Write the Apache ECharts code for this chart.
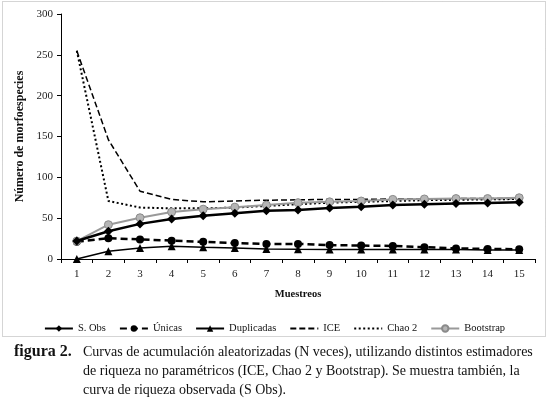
<!DOCTYPE html>
<html>
<head>
<meta charset="utf-8">
<script src="https://cdn.jsdelivr.net/npm/echarts@6/dist/echarts.min.js"></script>
<style>
html, body { margin: 0; padding: 0; background: #fff; }
#chart { width: 549px; height: 398px; }
</style>
</head>
<body>
<div id="chart"></div>
<script>
const muestreos = ['1', '2', '3', '4', '5', '6', '7', '8', '9', '10', '11', '12', '13', '14', '15']
const sObs = [22, 34, 43, 49, 53, 56, 59, 60, 62.5, 64, 66, 67, 68, 68.5, 69.5]
const unicas = [21, 25.5, 24, 22.5, 21, 19.5, 18.5, 18.5, 17, 16.5, 16, 14.5, 13, 12.3, 12]
const duplicadas = [0, 9.5, 13.5, 15.5, 14.3, 13.5, 12.3, 11.8, 11.5, 11.5, 11.5, 11.5, 11.5, 11, 11]
const ice = [255, 146, 83, 73, 70, 71, 72, 72.5, 73, 73, 73.5, 73.5, 74, 74, 74]
const chao2 = [255, 71, 63, 62, 62, 63, 65, 67, 69, 70, 71, 72, 72.5, 73, 73.5]
const bootstrap = [22, 42, 50.5, 57.5, 61, 63.5, 66, 69, 70, 71, 73, 73.5, 74, 74, 75]

const serif = '"Liberation Serif", "DejaVu Serif", serif'

const chart = echarts.init(document.getElementById('chart'))

chart.setOption({
  animation: false,
  textStyle: { fontFamily: serif },
  grid: { left: 61, right: 14, top: 14, bottom: 139 },
  legend: {
    top: 318,
    left: 'center',
    itemWidth: 28,
    itemHeight: 8,
    itemGap: 13,
    textStyle: { fontFamily: serif, fontSize: 10.5, color: '#111' },
    data: [
      'S. Obs',
      'Únicas',
      'Duplicadas',
      { name: 'ICE', itemStyle: { opacity: 0 } },
      { name: 'Chao 2', itemStyle: { opacity: 0 } },
      'Bootstrap'
    ]
  },
  xAxis: {
    type: 'category',
    data: muestreos,
    name: 'Muestreos',
    nameLocation: 'middle',
    nameGap: 30,
    nameTextStyle: { fontFamily: serif, fontWeight: 'bold', fontSize: 10.5, color: '#111' },
    axisLine: { lineStyle: { color: '#000', width: 1 } },
    axisTick: { show: true, length: 4, lineStyle: { color: '#000' } },
    axisLabel: { fontFamily: serif, fontSize: 11, color: '#222', margin: 10 },
    splitLine: { show: false }
  },
  yAxis: {
    type: 'value',
    min: 0,
    max: 300,
    interval: 50,
    name: 'Número de morfoespecies',
    nameLocation: 'middle',
    nameGap: 32,
    nameTextStyle: { fontFamily: serif, fontWeight: 'bold', fontSize: 12, color: '#111' },
    axisLine: { show: true, lineStyle: { color: '#000', width: 1 } },
    axisTick: { show: true, length: 4, lineStyle: { color: '#000' } },
    axisLabel: { fontFamily: serif, fontSize: 11, color: '#222', margin: 8 },
    splitLine: { show: false }
  },
  series: [
    {
      name: 'S. Obs',
      type: 'line',
      data: sObs,
      symbol: 'diamond',
      symbolSize: 9,
      itemStyle: { color: '#000' },
      lineStyle: { color: '#000', width: 2.5 },
      z: 5
    },
    {
      name: 'Únicas',
      type: 'line',
      data: unicas,
      symbol: 'circle',
      symbolSize: 8,
      itemStyle: { color: '#000' },
      lineStyle: { color: '#000', width: 2.5, type: [7, 4] },
      z: 4
    },
    {
      name: 'Duplicadas',
      type: 'line',
      data: duplicadas,
      symbol: 'triangle',
      symbolSize: 8,
      itemStyle: { color: '#000' },
      lineStyle: { color: '#000', width: 1.5 },
      z: 4
    },
    {
      name: 'ICE',
      type: 'line',
      data: ice,
      symbol: 'none',
      itemStyle: { color: '#000' },
      lineStyle: { color: '#000', width: 1.5, type: [6, 3] },
      z: 3
    },
    {
      name: 'Chao 2',
      type: 'line',
      data: chao2,
      symbol: 'none',
      itemStyle: { color: '#000' },
      lineStyle: { color: '#000', width: 2, type: [2, 2.5] },
      z: 3
    },
    {
      name: 'Bootstrap',
      type: 'line',
      data: bootstrap,
      symbol: 'circle',
      symbolSize: 8,
      itemStyle: { color: '#b5b5b5', borderColor: '#8a8a8a', borderWidth: 1 },
      lineStyle: { color: '#999', width: 2 },
      z: 4
    }
  ],
  graphic: [
    {
      type: 'rect',
      shape: { x: 2.5, y: 1.5, width: 543, height: 335 },
      style: { fill: 'none', stroke: '#aaa', lineWidth: 1, lineDash: [1, 1] },
      silent: true
    },
    {
      type: 'text',
      left: 14,
      top: 344,
      style: { text: 'figura 2.', font: 'bold 16px ' + serif, fill: '#111' }
    },
    {
      type: 'text',
      left: 83,
      top: 345,
      style: { text: 'Curvas de acumulación aleatorizadas (N veces), utilizando distintos estimadores', font: '14px ' + serif, fill: '#111' }
    },
    {
      type: 'text',
      left: 83,
      top: 364,
      style: { text: 'de riqueza no paramétricos (ICE, Chao 2 y Bootstrap). Se muestra también, la', font: '14px ' + serif, fill: '#111' }
    },
    {
      type: 'text',
      left: 83,
      top: 383,
      style: { text: 'curva de riqueza observada (S Obs).', font: '14px ' + serif, fill: '#111' }
    }
  ]
})

window.addEventListener('resize', () => chart.resize())
</script>
</body>
</html>
